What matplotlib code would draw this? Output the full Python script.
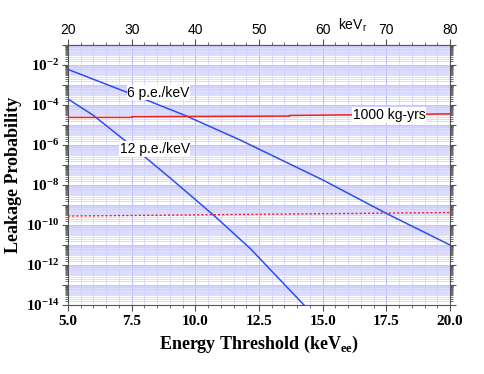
import numpy as np
import matplotlib
matplotlib.use('Agg')
import matplotlib.pyplot as plt
from matplotlib.ticker import LogLocator, MultipleLocator, FixedLocator, FuncFormatter, NullFormatter

plt.rcParams['mathtext.fontset'] = 'custom'
plt.rcParams['mathtext.rm'] = 'Liberation Serif'
plt.rcParams['mathtext.bf'] = 'Liberation Serif:bold'
plt.rcParams['mathtext.sf'] = 'Liberation Sans'

# curves (x in keVee)
x_6pe = [5.0, 7.5, 9.6, 11.75, 15.0, 17.5, 20.0]
leak_6pe = [6e-3, 3.5e-4, 3e-5, 1.8e-6, 1.8e-8, 3.8e-10, 1e-11]

x_12pe = [5.0, 6.0, 7.5, 9.1, 10.8, 12.15, 14.3, 14.6]
leak_12pe = [2e-4, 3e-5, 9e-7, 1.8e-8, 2.5e-10, 6.8e-12, 9e-15, 3e-15]

x_exp = [5.0, 7.5, 7.5, 13.7, 13.7, 20.0]
exp_1000 = [2.4e-5, 2.4e-5, 2.6e-5, 2.8e-5, 3.0e-5, 3.6e-5]

x_dot = [5.0, 20.0]
dot_line = [2.8e-10, 4.2e-10]

kevr_ticks = [20, 30, 40, 50, 60, 70, 80]

blue = '#2d4df5'
red = '#f02020'
gridc = '#cdcdff'

fig = plt.figure(figsize=(4.85, 3.74), dpi=100)
ax = fig.add_axes([68/485, 1-305/374, (450-68)/485, (305-45)/374])

ax.plot(x_6pe, leak_6pe, color=blue, lw=1.1, zorder=3)
ax.plot(x_12pe, leak_12pe, color=blue, lw=1.1, zorder=3)
ax.plot(x_exp, exp_1000, color=red, lw=1.1, zorder=3)
ax.plot(x_dot, dot_line, color=red, lw=1.0, ls=(0, (1.5, 1.5)), zorder=3)

ax.set_yscale('log')
ax.set_xlim(5, 20)
ax.set_ylim(1e-14, 1e-1)

ax.xaxis.set_major_locator(MultipleLocator(2.5))
ax.xaxis.set_minor_locator(MultipleLocator(0.5))
ax.xaxis.set_major_formatter(FuncFormatter(lambda v, p: f'{v:.1f}'))

ax.yaxis.set_major_locator(LogLocator(base=10, numticks=30))
ax.yaxis.set_minor_locator(LogLocator(base=10, subs=np.arange(1.5, 10, 0.5), numticks=30))
ax.yaxis.set_minor_formatter(NullFormatter())


def ylab(v, p):
    e = int(round(np.log10(v)))
    if e % 2 == 0:
        return r'$\mathbf{10^{%d}}$' % e
    return ''


ax.yaxis.set_major_formatter(FuncFormatter(ylab))

ax.grid(True, which='minor', axis='both', color=gridc, lw=0.5)
ax.grid(True, which='major', axis='both', color='#b4b4ff', lw=0.7)
ax.set_axisbelow(True)

for s in ax.spines.values():
    s.set_color('#555555')
    s.set_linewidth(0.8)

ax.tick_params(which='both', direction='out', colors='#555555', right=True)
ax.tick_params(which='major', length=4)
ax.tick_params(which='minor', length=2)
ax.tick_params(axis='both', labelcolor='black')
ax.tick_params(axis='y', which='major', labelright=False, pad=2)

for lab in ax.get_xticklabels() + ax.get_yticklabels():
    lab.set_fontfamily('Liberation Serif')
    lab.set_fontweight('bold')
    lab.set_fontsize(11)

ax.set_xlabel(r'Energy Threshold (keV$_{\mathbf{ee}}$)', family='Liberation Serif',
              fontweight='bold', fontsize=13, labelpad=4)
ax.set_ylabel('Leakage Probability', family='Liberation Serif',
              fontweight='bold', fontsize=13, labelpad=3)

top = ax.secondary_xaxis('top', functions=(lambda v: v*4, lambda v: v/4))
top.xaxis.set_major_locator(FixedLocator(kevr_ticks))
top.xaxis.set_minor_locator(MultipleLocator(2))
top.tick_params(which='both', direction='out', colors='#555555', labelcolor='black',
                labelsize=10, pad=2)
top.tick_params(which='major', length=4)
top.tick_params(which='minor', length=2)
for lab in top.xaxis.get_ticklabels():
    lab.set_fontfamily('Liberation Sans')
top.spines['top'].set_color('#555555')
fig.text(353/485, 1-25/374, 'keV$_{\\mathsf{r}}$', family='Liberation Sans', fontsize=10,
         ha='center', va='center')

box = dict(facecolor='white', edgecolor='none', pad=0.5)
ax.text(8.55, 4.2e-4, '6 p.e./keV', family='Liberation Sans', fontsize=10,
        ha='center', va='center', bbox=box, zorder=4)
ax.text(8.4, 6.3e-7, '12 p.e./keV', family='Liberation Sans', fontsize=10,
        ha='center', va='center', bbox=box, zorder=4)
ax.text(17.6, 3.1e-5, '1000 kg-yrs', family='Liberation Sans', fontsize=10,
        ha='center', va='center', bbox=box, zorder=4)

fig.savefig('out.png', dpi=100)
